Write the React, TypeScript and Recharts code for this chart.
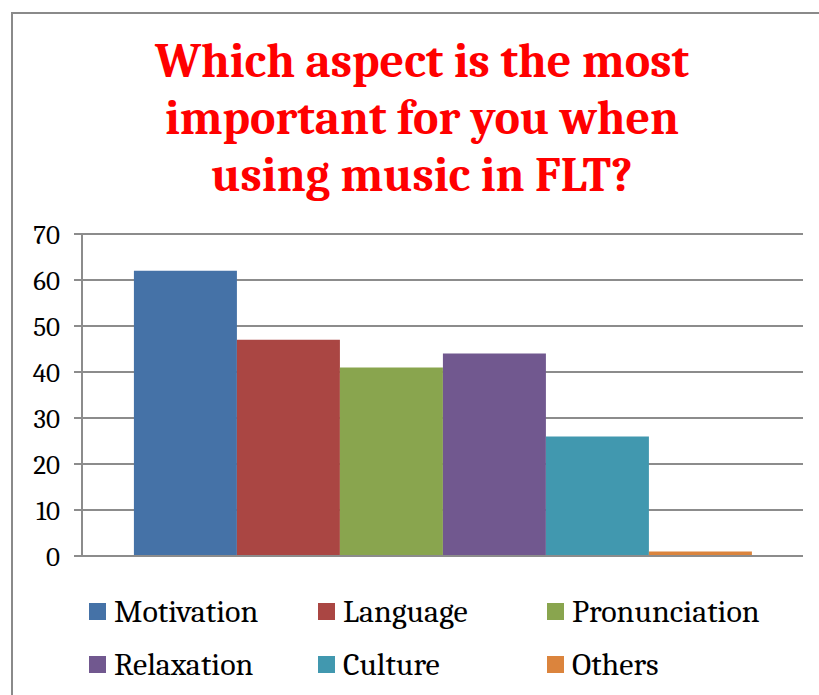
import { BarChart, Bar, XAxis, YAxis, CartesianGrid, Legend } from "recharts"

const seriesNames = ["Motivation", "Language", "Pronunciation", "Relaxation", "Culture", "Others"]
const seriesValues = [62, 47, 41, 44, 26, 1]
const seriesColors = ["#4572A7", "#AA4643", "#89A54E", "#71588F", "#4198AF", "#DB843D"]
const yTicks = [0, 10, 20, 30, 40, 50, 60, 70]

const row: Record<string, string | number> = { name: "" }
seriesNames.forEach((n, i) => {
  row[n] = seriesValues[i]
})
const data = [row]

const GRID = "#8c8c8c"
const SERIF = "Cambria, 'Liberation Serif', serif"

const LegendBox = () => (
  <div style={{ display: "flex", flexWrap: "wrap", width: 690 }}>
    {seriesNames.map((n, i) => (
      <div
        key={n}
        style={{ width: 229, height: 53, display: "flex", alignItems: "center", gap: 8 }}
      >
        <span style={{ width: 17, height: 17, background: seriesColors[i], display: "inline-block" }} />
        <span style={{ fontFamily: SERIF, fontSize: 32, color: "#000", lineHeight: "34px" }}>{n}</span>
      </div>
    ))}
  </div>
)

export default function App() {
  return (
    <div style={{ position: "absolute", left: 0, top: 0, width: 819, height: 695, overflow: "hidden", background: "#fff" }}>
      <div
        style={{
          position: "absolute",
          left: 11,
          top: 12,
          width: 900,
          height: 800,
          border: "2px solid #8a8a8a",
        }}
      />
      <div
        style={{
          position: "absolute",
          left: 22,
          top: 33,
          width: 800,
          textAlign: "center",
          fontFamily: SERIF,
          fontWeight: "bold",
          fontSize: 48,
          lineHeight: "57px",
          color: "#ff0000",
        }}
      >
        Which aspect is the most
        <br />
        important for you when
        <br />
        using music in FLT?
      </div>
      <div style={{ position: "absolute", left: 0, top: 0 }}>
        <BarChart
          width={819}
          height={695}
          data={data}
          margin={{ top: 234, right: 16, left: 0, bottom: 32 }}
          barCategoryGap="7.2%"
          barGap={0}
        >
          <CartesianGrid vertical={false} stroke={GRID} strokeWidth={2} />
          <XAxis dataKey="name" tick={false} tickLine={false} axisLine={{ stroke: GRID, strokeWidth: 2 }} height={1} />
          <YAxis
            domain={[0, 70]}
            ticks={yTicks}
            interval={0}
            width={82}
            tickSize={8}
            tickMargin={14}
            axisLine={{ stroke: GRID, strokeWidth: 2 }}
            tickLine={{ stroke: GRID, strokeWidth: 2 }}
            tick={{ fill: "#000", fontSize: 27, fontFamily: SERIF }}
          />
          {seriesNames.map((n, i) => (
            <Bar key={n} dataKey={n} fill={seriesColors[i]} isAnimationActive={false} />
          ))}
          <Legend
            content={<LegendBox />}
            wrapperStyle={{ position: "absolute", left: 89, top: 585, width: 690 }}
          />
        </BarChart>
      </div>
    </div>
  )
}
